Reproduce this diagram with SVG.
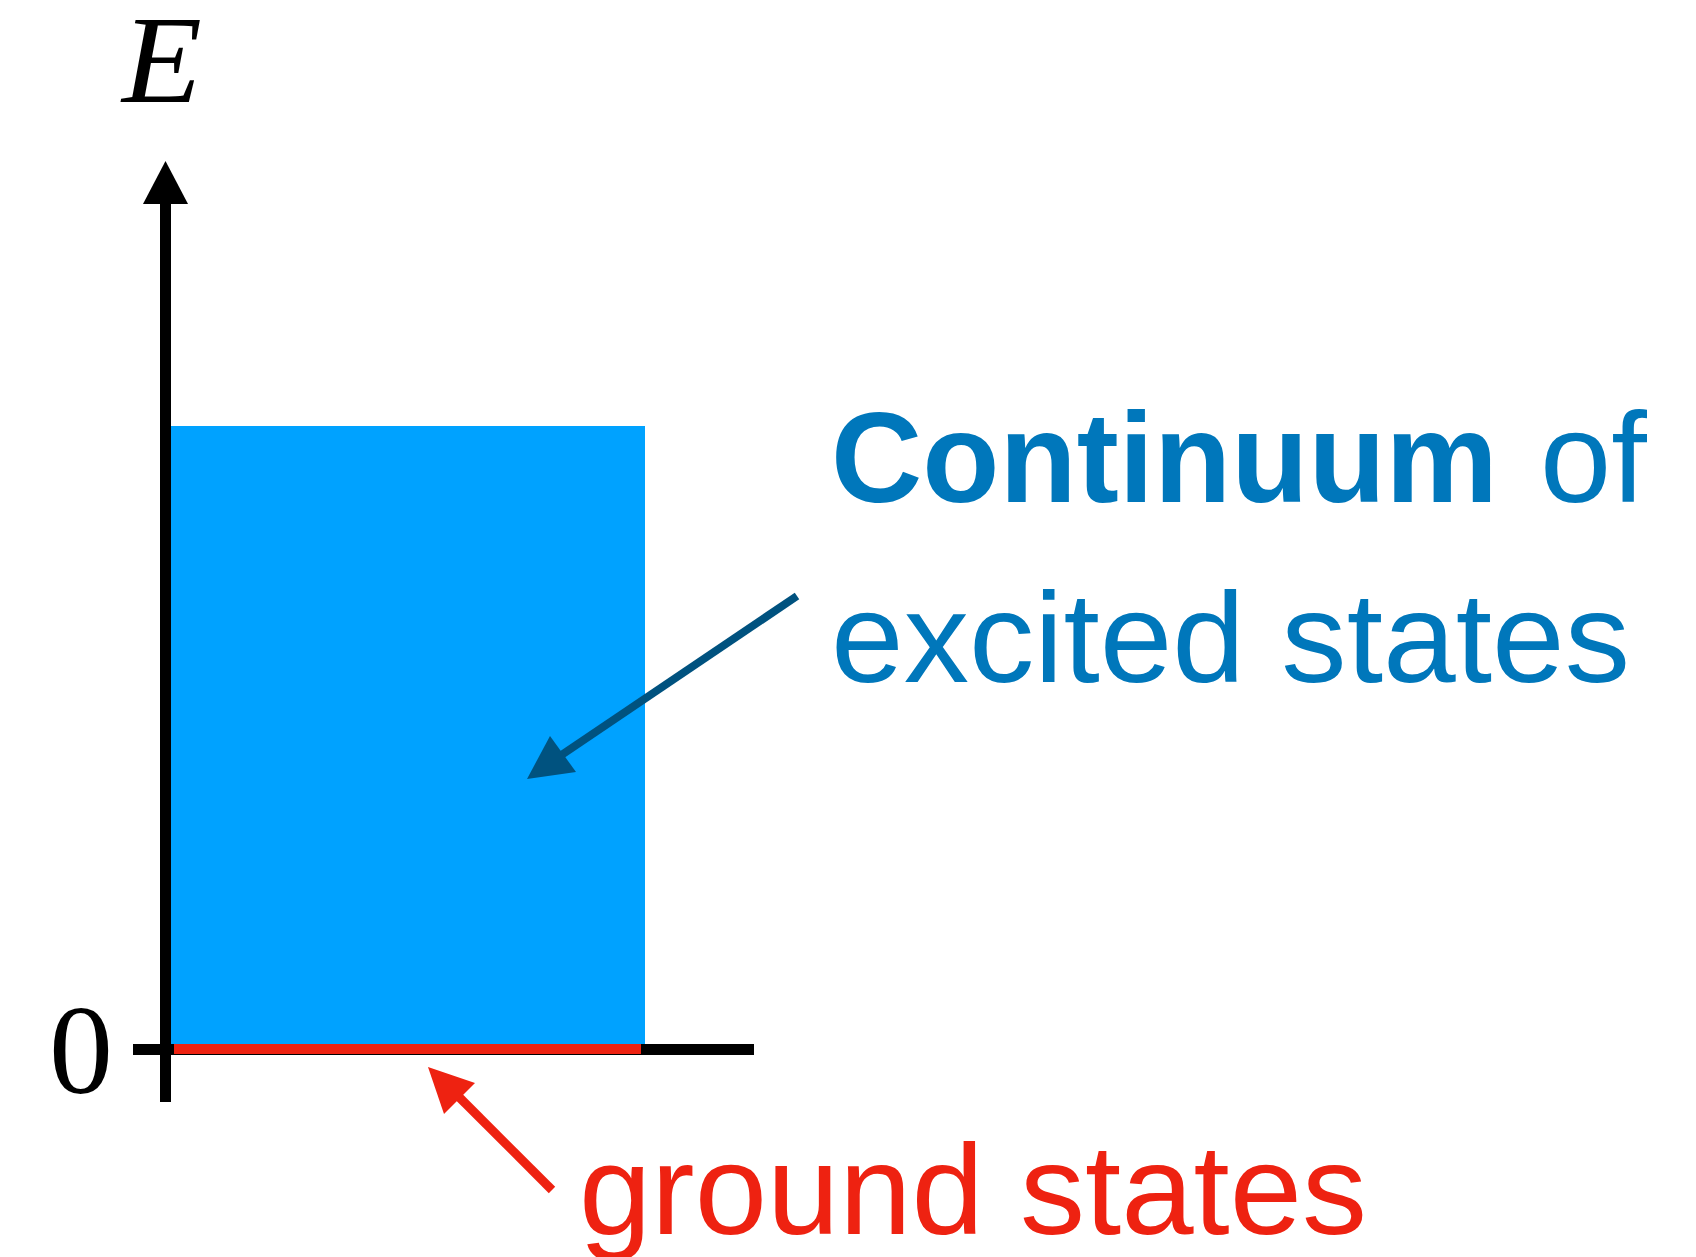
<svg xmlns="http://www.w3.org/2000/svg" width="1696" height="1257" viewBox="0 0 1696 1257">
<style>
.serif{font-family:"Liberation Serif","Times New Roman",serif;fill:#000}
.sans{font-family:"Liberation Sans",Arial,sans-serif;font-size:128px}
.blue{fill:#0077BB}
.red{fill:#EE2211}
</style>
<rect width="1696" height="1257" fill="#fff"/>
<g id="continuum-region">
<rect x="171" y="426" width="474" height="622" fill="#00A2FF"/>
</g>
<g id="axes">
<line x1="165.5" y1="200" x2="165.5" y2="1102" stroke="#000" stroke-width="11"/>
<polygon points="165.5,161 143,204 188,204" fill="#000"/>
<line x1="133" y1="1049.5" x2="754" y2="1049.5" stroke="#000" stroke-width="11"/>
<text class="serif" x="122" y="102" font-size="124" font-style="italic" textLength="80" lengthAdjust="spacingAndGlyphs">E</text>
<text class="serif" x="81" y="1093" font-size="128" text-anchor="middle">0</text>
</g>
<g id="ground-line">
<rect x="174" y="1044" width="467" height="10" fill="#EE2211"/>
</g>
<g id="label-continuum">
<text class="sans blue" x="831" y="502" font-weight="bold" textLength="667" lengthAdjust="spacingAndGlyphs">Continuum</text>
<text class="sans blue" x="1540" y="502">of</text>
<text class="sans blue" x="831" y="682" textLength="799" lengthAdjust="spacingAndGlyphs">excited states</text>
</g>
<g id="label-ground">
<text class="sans red" x="579" y="1234" textLength="788" lengthAdjust="spacingAndGlyphs">ground states</text>
</g>
<g id="connectors">
<line x1="797" y1="596" x2="560" y2="756" stroke="#00527F" stroke-width="8"/>
<polygon points="527,779 550,736 576,772" fill="#00527F"/>
<line x1="552" y1="1190" x2="456" y2="1094" stroke="#EE2211" stroke-width="9"/>
<polygon points="428,1067 444,1114 475,1083" fill="#EE2211"/>
</g>
</svg>
